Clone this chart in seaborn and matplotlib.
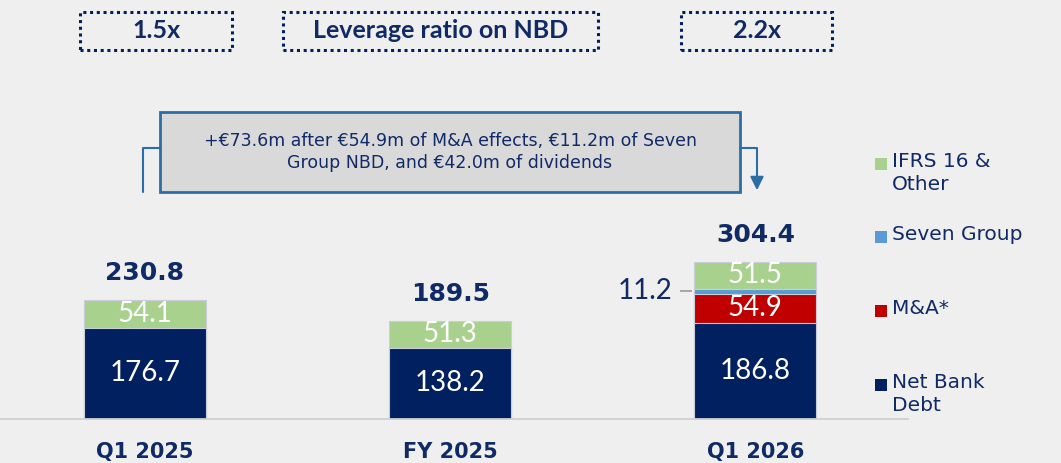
import matplotlib
matplotlib.use('Agg')
import matplotlib.pyplot as plt
import seaborn as sns
from matplotlib.patches import Rectangle
from matplotlib.lines import Line2D

# ---------------- data ----------------
categories = ['Q1 2025', 'FY 2025', 'Q1 2026']
net_bank_debt = [176.7, 138.2, 186.8]
m_and_a = [0.0, 0.0, 54.9]
seven_group = [0.0, 0.0, 11.2]
ifrs16_other = [54.1, 51.3, 51.5]
totals = [230.8, 189.5, 304.4]
leverage_labels = ['1.5x', '2.2x']
header_title = 'Leverage ratio on NBD'
note_text = '+€73.6m after €54.9m of M&A effects, €11.2m of Seven\nGroup NBD, and €42.0m of dividends'
series_names = ['IFRS 16 &\nOther', 'Seven Group', 'M&A*', 'Net Bank\nDebt']

# ---------------- style ----------------
NAVY = '#002060'
RED = '#c00000'
LBLUE = '#5b9bd5'
GREEN = '#a9d18e'
TXT = '#102a66'
BG = '#efefef'

sns.set_theme(style='white')
plt.rcParams['font.family'] = ['DejaVu Sans']

W, H = 1061, 463
fig = plt.figure(figsize=(W / 100, H / 100), dpi=100, facecolor=BG)

def fx(px):
    return px / W

def fy(py):
    return 1 - py / H

SCALE = 0.516      # pixels per unit
SPACING = 305.5    # pixels between categories
C0 = 145           # pixel centre of first category
BASE = 419         # pixel baseline (from top)

ax = fig.add_axes([0, fy(BASE), fx(908), BASE / H])
ax.set_facecolor('none')

# stacked bars via cumulative overlays (tallest first)
stack = [(net_bank_debt, NAVY), (m_and_a, RED), (seven_group, LBLUE), (ifrs16_other, GREEN)]
cums = []
running = [0.0] * len(categories)
for vals, col in stack:
    running = [r + v for r, v in zip(running, vals)]
    cums.append((list(running), col))

for cum, col in reversed(cums):
    sns.barplot(x=categories, y=cum, color=col, width=0.4, saturation=1,
                errorbar=None, ax=ax, edgecolor='#c9ced8', linewidth=0.8)

ax.set_xlim(-C0 / SPACING, (908 - C0) / SPACING)
ax.set_ylim(0, BASE / SCALE)

LIGHT = ['Lato', 'DejaVu Sans']

# segment labels
bottoms = [0.0] * len(categories)
for k, (vals, col) in enumerate(stack):
    for i, v in enumerate(vals):
        if v <= 0:
            continue
        mid = bottoms[i] + v / 2
        if vals is seven_group:
            ax.text((673 - C0) / SPACING, mid, f'{v:.1f}', ha='right', va='center',
                    color=TXT, fontsize=20, fontweight='normal', family=LIGHT)
            ax.plot([(681 - C0) / SPACING, (693 - C0) / SPACING], [mid, mid],
                    color='#a0a0a0', lw=1.3, solid_capstyle='butt')
        else:
            ax.text(i, mid, f'{v:.1f}', ha='center', va='center',
                    color='white', fontsize=20, fontweight='normal', family=LIGHT)
    bottoms = [b + v for b, v in zip(bottoms, vals)]

# totals
for i, t in enumerate(totals):
    ax.annotate(f'{t:.1f}', xy=(i, t), xytext=(0, 14.5), textcoords='offset points',
                ha='center', va='baseline', fontsize=18, fontweight='bold', color=TXT)

# axes styling
for s in ['top', 'right', 'left']:
    ax.spines[s].set_visible(False)
ax.spines['bottom'].set_color('#cfcfcf')
ax.spines['bottom'].set_linewidth(1.3)
ax.set_yticks([])
ax.set_xticks(range(len(categories)))
ax.set_xticklabels(categories, fontsize=15, fontweight='bold', color=TXT)
ax.tick_params(axis='x', which='major', length=0, pad=16.5)
ax.set_xticks([0.5, 1.5, 2.5], minor=True)
ax.tick_params(axis='x', which='minor', length=7, width=1.2, color='#cfcfcf', direction='out')
ax.set_xlabel('')
ax.set_ylabel('')

# header boxes (dotted)
header_boxes = [(80, 232, leverage_labels[0]), (283, 598, header_title), (681, 832, leverage_labels[1])]
for x0, x1, lab in header_boxes:
    fig.add_artist(Rectangle((fx(x0), fy(50)), fx(x1) - fx(x0), fy(12) - fy(50),
                             transform=fig.transFigure, facecolor='none',
                             edgecolor=NAVY, lw=2.2, linestyle=(0, (1, 1.2))))
    fig.text(fx((x0 + x1) / 2), fy(31), lab, ha='center', va='center',
             fontsize=18, fontweight='bold', color=TXT,
             family=['Lato', 'DejaVu Sans'])

# note box with connectors
BORDER = '#2e6da4'
fig.add_artist(Rectangle((fx(160), fy(192)), fx(740) - fx(160), fy(112) - fy(192),
                         transform=fig.transFigure, facecolor='#d9d9d9',
                         edgecolor=BORDER, lw=2))
fig.text(fx(450), fy(152), note_text, ha='center', va='center', fontsize=12.5,
         color=TXT, linespacing=1.3)
fig.add_artist(Line2D([fx(143), fx(143), fx(160)], [fy(192), fy(148), fy(148)],
                      transform=fig.transFigure, color=BORDER, lw=1.5))
fig.add_artist(Line2D([fx(740), fx(757), fx(757)], [fy(148), fy(148), fy(182)],
                      transform=fig.transFigure, color=BORDER, lw=1.5))
ax.annotate('', xy=(fx(757), fy(193)), xytext=(fx(757), fy(178)),
            xycoords='figure fraction', textcoords='figure fraction',
            arrowprops=dict(arrowstyle='-|>', color=BORDER, lw=1.5, mutation_scale=20))

# legend (manual)
leg_colors = [GREEN, LBLUE, RED, NAVY]
leg_y = [164, 237, 311, 385]
for name, col, y in zip(series_names, leg_colors, leg_y):
    fig.add_artist(Rectangle((fx(875), fy(y + 6)), fx(12), 12 / H,
                             transform=fig.transFigure, facecolor=col, edgecolor='none'))
    fig.text(fx(892), fy(y - 12), name, ha='left', va='top', fontsize=14.5,
             color=TXT, linespacing=1.25)

fig.savefig('out.png', dpi=100, facecolor=BG)
